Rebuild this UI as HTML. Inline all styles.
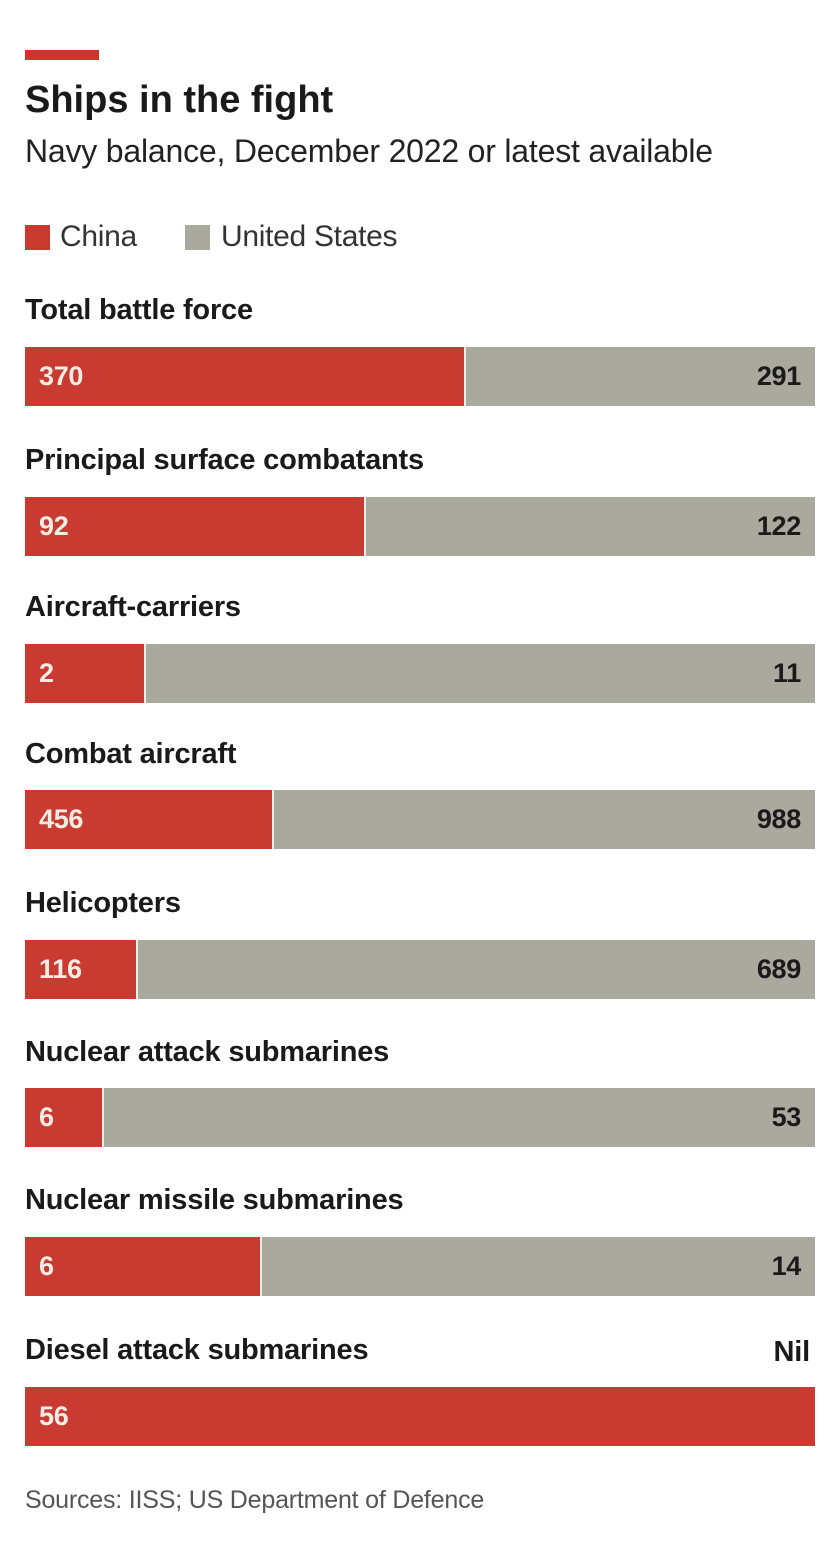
<!DOCTYPE html>
<html><head><meta charset="utf-8"><style>
body{margin:0;width:838px;height:1568px;background:#fff;position:relative;font-family:"Liberation Sans",sans-serif;color:#1a1a1a;overflow:hidden}
.a{position:absolute}
.lab{position:absolute;left:25px;font-size:29px;font-weight:bold;letter-spacing:-0.2px;line-height:1}
.bar{position:absolute;left:25px;width:790px;height:59px;background:#a9a99e}
.r{position:absolute;left:0;top:0;height:100%;background:#c93a31;border-right:2px solid #f2efe9}
.v1{position:absolute;left:14px;top:14px;font-size:27px;font-weight:bold;color:#f6ece4;letter-spacing:-0.3px}
.v2{position:absolute;right:14px;top:14px;font-size:27px;font-weight:bold;color:#1a1a1a;letter-spacing:-0.3px}
</style></head><body>
<div class="a" style="left:25px;top:50px;width:74px;height:10px;background:#d1322c"></div>
<div class="a" style="left:25px;top:79px;font-size:38px;font-weight:bold;letter-spacing:0px">Ships in the fight</div>
<div class="a" style="left:25px;top:133px;font-size:32px;color:#222;letter-spacing:-0.2px">Navy balance, December 2022 or latest available</div>
<div class="a" style="left:25px;top:225px;width:25px;height:25px;background:#c93a31"></div>
<div class="a" style="left:60px;top:220px;font-size:30px;color:#333;letter-spacing:-0.3px">China</div>
<div class="a" style="left:185px;top:225px;width:25px;height:25px;background:#a9a99e"></div>
<div class="a" style="left:221px;top:220px;font-size:30px;color:#333;letter-spacing:-0.3px">United States</div>

<div class="lab" style="top:296px">Total battle force</div>
<div class="bar" style="top:347px"><div class="r" style="width:439px"></div><span class="v1">370</span><span class="v2">291</span></div>

<div class="lab" style="top:446px">Principal surface combatants</div>
<div class="bar" style="top:497px"><div class="r" style="width:339px"></div><span class="v1">92</span><span class="v2">122</span></div>

<div class="lab" style="top:593px">Aircraft-carriers</div>
<div class="bar" style="top:644px"><div class="r" style="width:119px"></div><span class="v1">2</span><span class="v2">11</span></div>

<div class="lab" style="top:740px">Combat aircraft</div>
<div class="bar" style="top:790px"><div class="r" style="width:247px"></div><span class="v1">456</span><span class="v2">988</span></div>

<div class="lab" style="top:889px">Helicopters</div>
<div class="bar" style="top:940px"><div class="r" style="width:111px"></div><span class="v1">116</span><span class="v2">689</span></div>

<div class="lab" style="top:1038px">Nuclear attack submarines</div>
<div class="bar" style="top:1088px"><div class="r" style="width:77px"></div><span class="v1">6</span><span class="v2">53</span></div>

<div class="lab" style="top:1186px">Nuclear missile submarines</div>
<div class="bar" style="top:1237px"><div class="r" style="width:235px"></div><span class="v1">6</span><span class="v2">14</span></div>

<div class="lab" style="top:1336px">Diesel attack submarines</div>
<div class="a" style="right:28px;top:1336px;font-size:29px;font-weight:bold;letter-spacing:-0.2px">Nil</div>
<div class="bar" style="top:1387px;background:#c93a31"><span class="v1">56</span></div>

<div class="a" style="left:25px;top:1486px;font-size:25px;color:#555;letter-spacing:-0.2px">Sources: IISS; US Department of Defence</div>
</body></html>
